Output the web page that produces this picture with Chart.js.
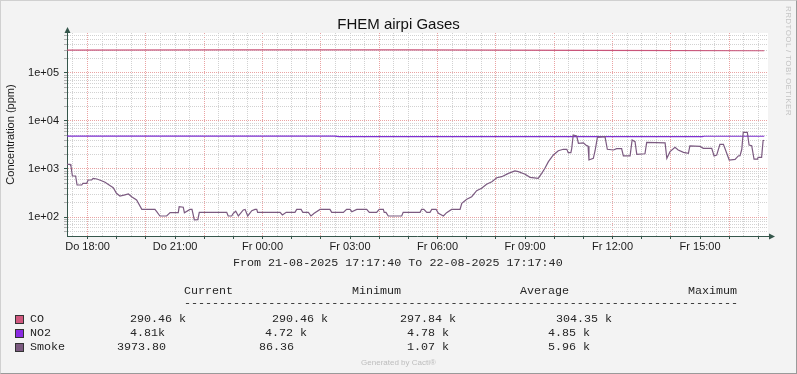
<!DOCTYPE html>
<html>
<head>
<meta charset="utf-8">
<title>FHEM airpi Gases</title>
<script src="https://cdn.jsdelivr.net/npm/chart.js@4.4.0/dist/chart.umd.min.js"></script>
<style>
  body { margin: 0; background: #f3f3f3; }
  #wrap { position: relative; width: 797px; height: 374px; background: #f3f3f3; overflow: hidden; }
  #frame { position: absolute; left: 0; top: 0; width: 797px; height: 374px; box-sizing: border-box;
           border: 1px solid #d0d0d0; border-right-color: #9a9a9a; border-bottom-color: #9a9a9a; pointer-events: none; }
  canvas { position: absolute; left: 0; top: 0; }
  .t { position: absolute; white-space: pre; }
  .mono { font-family: 'Liberation Mono', 'Courier New', monospace; font-size: 11.7px; line-height: 14px; color: #262626; }
  #title { left: 0; width: 797px; top: 16px; text-align: center; font-family: 'Liberation Sans', Arial, sans-serif;
           font-size: 15px; line-height: 15px; color: #111; }
  #rrd { left: 784px; top: 6px; writing-mode: vertical-rl; font-family: 'Liberation Sans', Arial, sans-serif;
         font-size: 8px; color: #c4c4c4; letter-spacing: 0.4px; }
  #gen { left: 0; width: 797px; top: 358px; text-align: center; font-family: 'Liberation Sans', Arial, sans-serif;
         font-size: 8px; color: #bdbdbd; }
  .sw { position: absolute; width: 7px; height: 7px; border: 1px solid #333; }
</style>
</head>
<body>
<div id="wrap">
  <canvas id="myChart" width="797" height="374"></canvas>
  <div class="t" id="title">FHEM airpi Gases</div>
  <div class="t" id="rrd">RRDTOOL / TOBI OETIKER</div>
  <div class="t" id="gen">Generated by Cacti®</div>
  <div id="legend"></div>
  <div id="frame"></div>
</div>
<script>
// time axis: hours counted from Do 00:00 (21-08-2025) ..........................
var startHour = 17 + 17 / 60 + 40 / 3600;   // 17:17:40
var endHour = startHour + 24;               // 22-08-2025 17:17:40

// y axis tick labels (powers of ten) ...........................................
var yMajorTicks = [100, 1000, 10000, 100000];
var yMajorLabels = ["1e+02", "1e+03", "1e+04", "1e+05"];

// CO ...........................................................................
var coHours  = [17.30, 23.0, 29.0, 35.0, 41.20];
var coValues = [299000, 302000, 304300, 296000, 290460];

// NO2 ..........................................................................
var no2Hours  = [17.30, 26.48, 26.62, 39.08, 39.14, 41.20];
var no2Values = [4840, 4840, 4720, 4720, 4810, 4810];

// Smoke ........................................................................
var smokeHours = [
  17.29, 17.40, 17.43, 17.48, 17.59, 17.64, 17.80, 17.84, 17.97, 18.02,
  18.14, 18.19, 18.32, 18.48, 18.60, 18.70, 18.88, 18.99, 19.11, 19.28,
  19.40, 19.51, 19.68, 19.86, 20.31, 20.37, 20.48, 20.71, 20.83, 21.11,
  21.14, 21.28, 21.32, 21.51, 21.58, 21.66, 21.78, 21.83, 22.77, 22.82,
  22.94, 23.00, 23.08, 23.17, 23.34, 23.40, 23.49, 23.63, 23.74, 23.80,
  23.83, 24.60, 24.68, 24.81, 25.11, 25.17, 25.32, 25.38, 25.57, 25.66,
  25.77, 25.97, 26.31, 26.37, 26.77, 26.88, 27.00, 27.06, 27.23, 27.57,
  27.66, 27.91, 28.00, 28.14, 28.17, 28.23, 28.31, 28.77, 28.82, 29.40,
  29.45, 29.53, 29.63, 29.74, 29.80, 29.95, 30.03, 30.20, 30.31, 30.48,
  30.77, 30.83, 31.00, 31.17, 31.34, 31.51, 31.68, 31.86, 32.03, 32.20,
  32.43, 32.65, 32.77, 33.00, 33.17, 33.45, 33.57, 33.68, 33.80, 33.97,
  34.14, 34.31, 34.43, 34.48, 34.57, 34.60, 34.65, 34.77, 34.83, 35.00,
  35.08, 35.16, 35.19, 35.34, 35.40, 35.48, 35.74, 35.82, 36.03, 36.14,
  36.31, 36.37, 36.60, 36.67, 36.77, 36.83, 37.11, 37.17, 37.80, 37.86,
  37.97, 38.14, 38.25, 38.43, 38.60, 38.65, 39.00, 39.11, 39.40, 39.48,
  39.57, 39.68, 39.80, 40.00, 40.20, 40.31, 40.37, 40.43, 40.48, 40.62,
  40.68, 40.77, 40.85, 40.97, 40.99, 41.11, 41.16, 41.20
];
var smokeValues = [
  1250, 1250, 1155, 714, 714, 464, 464, 504, 504, 590,
  590, 640, 620, 571, 528, 480, 408, 312, 274, 288,
  302, 265, 226, 144, 144, 129, 105, 105, 123, 123,
  164, 160, 123, 144, 144, 87, 88, 125, 125, 105,
  105, 120, 132, 105, 140, 144, 105, 135, 144, 144,
  125, 125, 110, 125, 125, 144, 144, 125, 125, 105,
  120, 144, 144, 125, 125, 144, 144, 129, 144, 144,
  125, 125, 144, 144, 125, 125, 105, 105, 125, 125,
  144, 144, 125, 125, 144, 144, 120, 105, 123, 144,
  144, 193, 234, 265, 353, 396, 480, 544, 659, 691,
  812, 909, 880, 775, 671, 640, 812, 1033, 1420, 1957,
  2407, 2575, 2575, 2186, 2186, 2700, 5110, 4870, 3430, 3500,
  3160, 3000, 1540, 1670, 2400, 4570, 4720, 2575, 2490, 2650,
  2650, 1870, 1870, 4020, 3710, 2020, 2080, 3600, 3500, 1670,
  2300, 2830, 2490, 2220, 2120, 3020, 2950, 2700, 2700, 1870,
  1950, 3270, 3270, 1540, 1580, 1870, 1900, 2575, 5820, 5820,
  3160, 3050, 1600, 1600, 1750, 1750, 3900, 3973.8
];

// legend table (text only) .....................................................
var legendNames  = ["CO", "NO2", "Smoke"];
var legendColors = ["#D0587E", "#8A2BE2", "#7B5A80"];
var legendCurrent = ["290.46 k", "4.81k", "3973.80"];
var legendMinimum = ["290.46 k", "4.72 k", "86.36"];
var legendAverage = ["297.84 k", "4.78 k", "1.07 k"];
var legendMaximum = ["304.35 k", "4.85 k", "5.96 k"];

var lineColors = ["#7B5A80", "#7E2FD0", "#C9557A"];
var axisColor = "#35564b";
var gridGray = "#d2d2d2";
var gridRed = "#eaa3a3";

function toPoints(xs, ys) {
  return xs.map(function (x, i) { return {x: x, y: ys[i]}; });
}

function isPow10(v) {
  var l = Math.log10(v);
  return Math.abs(l - Math.round(l)) < 1e-9;
}

// background + axis arrows .....................................................
var rrdLook = {
  id: "rrdLook",
  beforeDraw: function (chart) {
    var a = chart.chartArea, ctx = chart.ctx;
    ctx.save();
    ctx.fillStyle = "#ffffff";
    ctx.fillRect(a.left, a.top, a.right - a.left + 1, a.bottom - a.top);
    ctx.restore();
  },
  afterDraw: function (chart) {
    var a = chart.chartArea, ctx = chart.ctx;
    var x0 = chart.scales.y.left + chart.scales.y.width;
    var y0 = chart.scales.x.top;
    ctx.save();
    ctx.strokeStyle = axisColor;
    ctx.fillStyle = axisColor;
    ctx.lineWidth = 1;
    ctx.beginPath();
    ctx.moveTo(x0 + 0.5, a.top);
    ctx.lineTo(x0 + 0.5, a.top - 4);
    ctx.moveTo(a.right, y0 + 0.5);
    ctx.lineTo(a.right + 3, y0 + 0.5);
    ctx.stroke();
    ctx.beginPath();
    ctx.moveTo(x0 + 0.5, a.top - 6);
    ctx.lineTo(x0 - 2.5, a.top);
    ctx.lineTo(x0 + 3.5, a.top);
    ctx.closePath();
    ctx.fill();
    ctx.beginPath();
    ctx.moveTo(a.right + 8, y0 + 0.5);
    ctx.lineTo(a.right + 2, y0 - 2.5);
    ctx.lineTo(a.right + 2, y0 + 3.5);
    ctx.closePath();
    ctx.fill();
    ctx.restore();
  }
};

var tickFont = {family: "'Liberation Sans', Arial, sans-serif", size: 11};

new Chart("myChart", {
  type: "line",
  data: {
    datasets: [
      {label: "Smoke", data: toPoints(smokeHours, smokeValues), borderColor: lineColors[0]},
      {label: "NO2", data: toPoints(no2Hours, no2Values), borderColor: lineColors[1]},
      {label: "CO", data: toPoints(coHours, coValues), borderColor: lineColors[2]}
    ]
  },
  options: {
    responsive: false,
    animation: false,
    parsing: false,
    datasets: {
      line: {borderWidth: 1.2, pointRadius: 0, tension: 0, fill: false}
    },
    layout: {padding: {top: 33, right: 30, bottom: 0, left: 0}},
    plugins: {
      legend: {display: false},
      title: {display: false},
      tooltip: {enabled: false}
    },
    scales: {
      x: {
        type: "linear",
        min: startHour,
        max: endHour,
        afterFit: function (scale) { scale.height = 374 - 236; },
        afterBuildTicks: function (scale) {
          var t = [];
          for (var h = Math.ceil(startHour * 2) / 2; h < endHour; h += 0.5) t.push({value: h});
          scale.ticks = t;
        },
        ticks: {
          autoSkip: false,
          maxRotation: 0,
          padding: 1,
          color: "#1a1a1a",
          font: tickFont,
          callback: function (v) {
            if (Math.abs(v % 3) > 1e-6) return "";
            var day = v < 24 ? "Do " : "Fr ";
            var hh = v % 24;
            return day + (hh < 10 ? "0" : "") + hh + ":00";
          }
        },
        grid: {
          color: function (c) { return Math.abs(c.tick.value % 2) < 1e-6 ? gridRed : gridGray; },
          tickColor: function (c) { return Math.abs(c.tick.value % 1) < 1e-6 ? axisColor : "rgba(0,0,0,0)"; },
          tickLength: 3,
          lineWidth: 1
        },
        border: {color: axisColor, width: 1, dash: [1, 1]}
      },
      y: {
        type: "logarithmic",
        min: 40.2,
        max: 681000,
        afterFit: function (scale) { scale.width = 67; },
        afterBuildTicks: function (scale) {
          var t = [];
          for (var e = 1; e <= 5; e++) {
            for (var s = 1; s <= 9; s++) {
              var v = s * Math.pow(10, e);
              if (v >= scale.min && v <= scale.max) t.push({value: v});
            }
          }
          scale.ticks = t;
        },
        ticks: {
          autoSkip: false,
          padding: 5,
          color: "#1a1a1a",
          font: tickFont,
          callback: function (v) {
            var i = yMajorTicks.indexOf(v);
            return i >= 0 ? yMajorLabels[i] : "";
          }
        },
        grid: {
          color: function (c) { return isPow10(c.tick.value) ? gridRed : gridGray; },
          tickColor: function (c) { return isPow10(c.tick.value) ? axisColor : "#b0b0b0"; },
          tickLength: 3,
          lineWidth: 1
        },
        border: {color: axisColor, width: 1, dash: [1, 1]},
        title: {
          display: true,
          text: "Concentration (ppm)",
          color: "#1a1a1a",
          font: tickFont,
          padding: {top: 4, bottom: 0}
        }
      }
    }
  },
  plugins: [rrdLook]
});

// legend text below the graph ..................................................
var legend = document.getElementById("legend");

function put(text, left, top, cls) {
  var d = document.createElement("div");
  d.className = "t " + (cls || "mono");
  d.style.left = left + "px";
  d.style.top = top + "px";
  d.textContent = text;
  legend.appendChild(d);
}

put("From 21-08-2025 17:17:40 To 22-08-2025 17:17:40", 233, 256);
put("Current", 184, 284);
put("Minimum", 352, 284);
put("Average", 520, 284);
put("Maximum", 688, 284);
put(new Array(80).join("-"), 184, 296);

var rowTop = [312, 326, 340];
var curLeft = [130, 130, 117];
var minLeft = [272, 265, 259];
var avgLeft = [400, 407, 407];
var maxLeft = [556, 548, 548];

legendNames.forEach(function (name, i) {
  var sw = document.createElement("div");
  sw.className = "sw";
  sw.style.left = "15px";
  sw.style.top = (rowTop[i] + 3) + "px";
  sw.style.background = legendColors[i];
  legend.appendChild(sw);
  put(name, 30, rowTop[i]);
  put(legendCurrent[i], curLeft[i], rowTop[i]);
  put(legendMinimum[i], minLeft[i], rowTop[i]);
  put(legendAverage[i], avgLeft[i], rowTop[i]);
  put(legendMaximum[i], maxLeft[i], rowTop[i]);
});
</script>
</body>
</html>
